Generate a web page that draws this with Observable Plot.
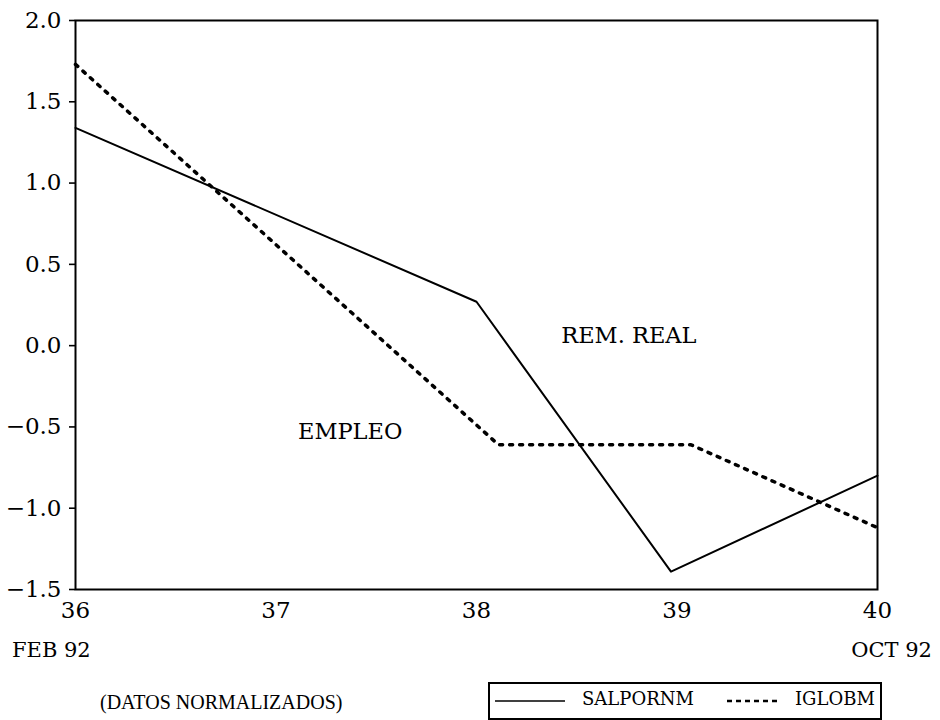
<!DOCTYPE html>
<html>
<head>
<meta charset="utf-8">
<script src="https://cdn.jsdelivr.net/npm/d3@7"></script>
<script src="https://cdn.jsdelivr.net/npm/@observablehq/plot@0.6"></script>
<style>
  html, body { margin: 0; padding: 0; background: #fff; }
  #wrap { position: relative; width: 940px; height: 720px; overflow: hidden; font-family: "DejaVu Serif", serif; color: #000; }
  .lbl { position: absolute; font-size: 21px; white-space: nowrap; }
</style>
</head>
<body>
<div id="wrap">
  <div id="chart"></div>
  <div class="lbl" style="left:12px; top:638px;">FEB 92</div>
  <div class="lbl" style="right:8px; top:638px;">OCT 92</div>
  <div class="lbl" style="left:100px; top:691px; font-size:20px; font-family:'Liberation Serif', serif;">(DATOS NORMALIZADOS)</div>
  <svg id="legend" style="position:absolute; left:488px; top:682px;" width="394" height="40"></svg>
</div>
<script>
// SALPORNM (REM. REAL) — solid line
const salPeriods = [36, 38, 38.97, 40];
const salValues  = [1.34, 0.27, -1.39, -0.80];
// IGLOBM (EMPLEO) — dotted line
const iglPeriods = [36, 38.11, 39.07, 40];
const iglValues  = [1.73, -0.61, -0.61, -1.12];
// axis ticks
const xTicks = [36, 37, 38, 39, 40];
const yTicks = [-1.5, -1.0, -0.5, 0.0, 0.5, 1.0, 1.5, 2.0];
// in-plot annotations
const noteText = ["REM. REAL", "EMPLEO"];
const noteX = [38.76, 37.37];
const noteY = [0.06, -0.53];

const sal = salPeriods.map((p, i) => ({x: p, y: salValues[i]}));
const igl = iglPeriods.map((p, i) => ({x: p, y: iglValues[i]}));
const notes = noteText.map((t, i) => ({text: t, x: noteX[i], y: noteY[i]}));

const chart = Plot.plot({
  width: 940,
  height: 640,
  marginTop: 20,
  marginLeft: 75,
  marginRight: 63,
  marginBottom: 51,
  style: {fontFamily: "DejaVu Serif, serif", fontSize: "23px", color: "#000", background: "#fff"},
  x: {domain: [36, 40], label: null},
  y: {domain: [-1.5, 2.0], label: null},
  marks: [
    Plot.axisX({ticks: xTicks, tickSize: 0, tickPadding: 12, tickFormat: d3.format("d"), label: null, fontSize: 23}),
    Plot.axisY({ticks: yTicks, tickSize: 6, tickPadding: 8, tickFormat: d3.format(".1f"), label: null, fontSize: 23, strokeWidth: 1.6}),
    Plot.line(sal, {x: "x", y: "y", stroke: "#000", strokeWidth: 2}),
    Plot.line(igl, {x: "x", y: "y", stroke: "#000", strokeWidth: 3.5, strokeDasharray: "3 7", strokeLinecap: "round"}),
    Plot.text(notes, {x: "x", y: "y", text: "text", fontSize: 22.5, fill: "#000"}),
    Plot.frame({stroke: "#000", strokeWidth: 2})
  ]
});
document.getElementById("chart").appendChild(chart);

// Legend
const leg = d3.select("#legend");
leg.append("rect").attr("x", 1).attr("y", 1).attr("width", 392).attr("height", 36)
  .attr("fill", "#fff").attr("stroke", "#000").attr("stroke-width", 2);
leg.append("line").attr("x1", 7).attr("x2", 77).attr("y1", 19).attr("y2", 19)
  .attr("stroke", "#000").attr("stroke-width", 1.5);
leg.append("text").attr("x", 94).attr("y", 18).attr("dominant-baseline", "middle")
  .attr("font-family", "DejaVu Serif, serif").attr("font-size", 18).text("SALPORNM");
leg.append("line").attr("x1", 239).attr("x2", 292).attr("y1", 19).attr("y2", 19)
  .attr("stroke", "#000").attr("stroke-width", 2.5).attr("stroke-dasharray", "5 4");
leg.append("text").attr("x", 307).attr("y", 18).attr("dominant-baseline", "middle")
  .attr("font-family", "DejaVu Serif, serif").attr("font-size", 18).text("IGLOBM");
</script>
</body>
</html>
